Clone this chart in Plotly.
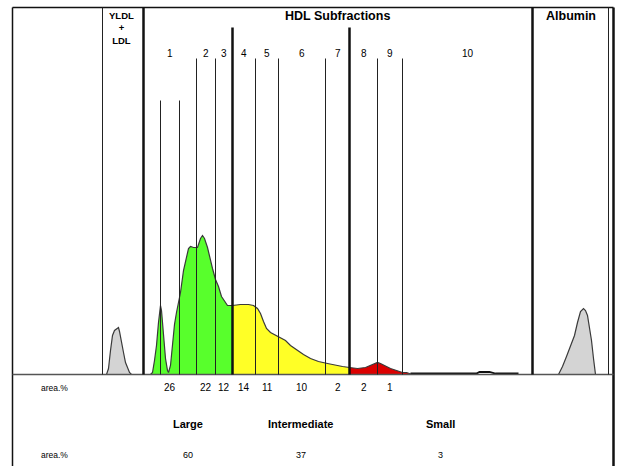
import plotly.graph_objects as go

# ---------------- data ----------------
# densitometric scan: mobility position vs. intensity
vldl_pos = [106, 108, 110, 112, 114, 116, 118, 119, 121, 123, 125, 127, 129, 131]
vldl_int = [0, 6, 24, 39, 44, 46, 47, 43, 34, 22, 12, 6, 2, 0]

large_pos = [150, 152, 154, 156, 158, 160, 161, 163, 165, 167, 168, 170, 172, 174, 176, 178, 180,
             183, 186, 188, 190, 193, 197, 200, 202, 204, 207, 210, 212, 215, 218, 221, 224, 227, 232]
large_int = [0, 2, 14, 29, 52, 69, 64, 39, 16, 4, 2, 9, 29, 50, 62, 73, 82,
             104, 118, 126, 128, 127, 127, 136, 139, 136, 127, 113, 106, 95, 88, 78, 73, 69, 69]

inter_pos = [232, 240, 248, 253, 257, 260, 263, 266, 270, 276, 280, 285, 290, 297, 303, 310, 318,
             327, 335, 342, 349]
inter_int = [69, 70, 70, 69, 66, 61, 53, 46, 42, 39, 37, 34, 29, 24, 20, 16, 13,
             11, 9, 8, 7]

small_pos = [349, 357, 365, 370, 374, 377, 380, 384, 390, 396, 402, 406, 410, 412]
small_int = [7, 6, 7, 9, 11, 12, 11, 9, 6, 4, 2, 2, 1, 0]

tail_pos = [410, 420, 470, 476, 479, 481, 486, 489, 495, 518]
tail_int = [1, 1, 1, 1, 2.5, 2.5, 2.5, 2.5, 1, 1]

alb_pos = [558, 562, 566, 570, 574, 577, 580, 583, 585, 587, 589, 591, 593, 594, 595]
alb_int = [0, 8, 18, 28, 39, 52, 63, 66, 64, 59, 48, 34, 16, 4, 0]

# HDL subfraction boundaries and labels
subfraction_edges = [143, 196, 215, 232, 255, 278, 325, 349, 377, 402, 532]
subfraction_labels = ["1", "2", "3", "4", "5", "6", "7", "8", "9", "10"]
subfraction_area = ["26", "22", "12", "14", "11", "10", "2", "2", "1", ""]
peak_markers = [160, 179]

class_names = ["Large", "Intermediate", "Small"]
class_area = ["60", "37", "3"]
class_centers = [187, 300, 440]

panel_dividers = [102, 608]
# ---------------------------------------

BASE = 0
TOP = 367
BOTTOM = -92
LEFT, RIGHT = 12, 613
outline = "#3a3a3a"

fig = go.Figure()

def area(xs, ys, color):
    fig.add_trace(go.Scatter(x=xs, y=ys, mode="lines", fill="tozeroy",
                             fillcolor=color, line=dict(color=outline, width=1.2),
                             hoverinfo="skip", showlegend=False))

area(vldl_pos, vldl_int, "#d4d4d4")
area(large_pos, large_int, "#58ff2c")
area(inter_pos, inter_int, "#ffff26")
area(small_pos, small_int, "#dc0000")
area(alb_pos, alb_int, "#d4d4d4")
fig.add_trace(go.Scatter(x=tail_pos, y=tail_int, mode="lines",
                         line=dict(color="#111", width=1.8),
                         hoverinfo="skip", showlegend=False))

shapes = []
def vline(x, y0, y1, w=1, c="#222222"):
    shapes.append(dict(type="line", xref="x", yref="y", x0=x, x1=x, y0=y0, y1=y1,
                       line=dict(color=c, width=w), layer="above"))

# frame
shapes.append(dict(type="line", xref="x", yref="y", x0=LEFT, x1=RIGHT, y0=TOP, y1=TOP,
                   line=dict(color="#111", width=1.5), layer="above"))
vline(LEFT, TOP, BOTTOM, 1.5, "#111")
vline(RIGHT, TOP, BOTTOM, 2.5, "#111")
shapes.append(dict(type="line", xref="x", yref="y", x0=LEFT, x1=RIGHT, y0=BASE, y1=BASE,
                   line=dict(color="#555", width=1.5), layer="above"))

for x in panel_dividers:
    vline(x, TOP, BASE, 1)
vline(subfraction_edges[0], TOP, BASE, 2.5, "#111")
vline(subfraction_edges[-1], TOP, BASE, 2.5, "#111")
for i, x in enumerate(subfraction_edges[1:-1], start=1):
    if i in (3, 7):
        vline(x, 347, BASE, 2.5, "#111")
    else:
        vline(x, 316, BASE, 1)
for x in peak_markers:
    vline(x, 274, BASE, 1)

ann = []
def text(x, y, s, size=10, bold=False):
    ann.append(dict(x=x, y=y, xref="x", yref="y", text=("<b>%s</b>" % s) if bold else s,
                    showarrow=False, xanchor="center", yanchor="middle",
                    font=dict(family="Liberation Sans, Arial", size=size, color="#000")))

text(121, 347, "YLDL<br>+<br>LDL", 9.5, True)
text(337, 359, "HDL Subfractions", 12.5, True)
text(570, 359, "Albumin", 12.5, True)

for i, lab in enumerate(subfraction_labels):
    cx = (subfraction_edges[i] + subfraction_edges[i + 1]) / 2
    text(cx, 321, lab, 10)
    if subfraction_area[i]:
        text(cx, -13, subfraction_area[i], 10)

for cx, nm, ar in zip(class_centers, class_names, class_area):
    text(cx, -49, nm, 11, True)
    text(cx, -80, ar, 9)

text(54, -13, "area.%", 8.5)
text(54, -80, "area.%", 8.5)

fig.update_layout(
    width=620, height=466,
    margin=dict(l=0, r=0, t=0, b=0),
    paper_bgcolor="white", plot_bgcolor="white",
    xaxis=dict(range=[-0.5, 619.5], visible=False, fixedrange=True),
    yaxis=dict(range=[374.5 - 466, 374.5], visible=False, fixedrange=True),
    shapes=shapes, annotations=ann, showlegend=False,
)

fig.write_html("out.html")
